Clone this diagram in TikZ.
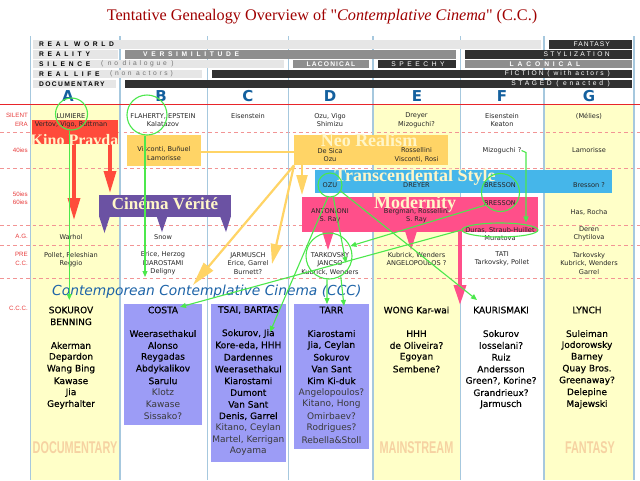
\documentclass[tikz,border=0pt]{standalone}
\usepackage{fontspec}
\usepackage{graphicx}
\setmainfont{Liberation Serif}
\newfontfamily\titlef{Liberation Serif}
\newfontfamily\dv{DejaVu Sans}
\newfontfamily\dvb[FakeBold=0.4]{DejaVu Sans}
\newfontfamily\lib{Liberation Sans}
\usetikzlibrary{arrows.meta,shapes.geometric}
\definecolor{titred}{HTML}{A00000}
\definecolor{yel}{HTML}{FFFFC8}
\definecolor{lgr}{HTML}{E6E6E6}
\definecolor{mgr}{HTML}{8E8E8E}
\definecolor{dgr}{HTML}{303030}
\definecolor{coll}{HTML}{A6C8DE}
\definecolor{redl}{HTML}{E8242A}
\definecolor{dashc}{HTML}{F29494}
\definecolor{rowred}{HTML}{E83C3C}
\definecolor{colblue}{HTML}{14609E}
\definecolor{kred}{HTML}{FF4B3B}
\definecolor{nyel}{HTML}{FFD466}
\definecolor{tblue}{HTML}{45B6EA}
\definecolor{mpink}{HTML}{FF4F8A}
\definecolor{cvp}{HTML}{6B52A3}
\definecolor{cccb}{HTML}{9C9CF6}
\definecolor{cccblue}{HTML}{1E64A8}
\definecolor{cream}{HTML}{FFF6C8}
\definecolor{grn}{HTML}{4CE84C}
\definecolor{wmark}{HTML}{F6D2A2}
\definecolor{sec}{HTML}{3A3A3A}
\newcommand\sect[1]{{\dv\color{sec}#1}}
\newcommand\ccclist[3]{\foreach \t [count=\i from 0] in {#3} {\node[lst] (#2\i) at (#1,310+11.8*\i) {\t};}}
\begin{document}
\begin{tikzpicture}[x=1pt,y=-1pt,
  cell/.style={font=\dv\fontsize{6.6}{8.5}\selectfont, text=black!85, inner sep=0pt, align=center},
  lst/.style={font=\dvb\fontsize{9}{11}\selectfont, text=black, inner sep=0pt},
  hbar/.style={inner sep=0pt, anchor=north west, minimum height=8.5pt},
  hl/.style={font=\lib\bfseries\fontsize{6.7}{7}\selectfont\addfontfeature{LetterSpace=#1}, text=black, inner sep=0pt, anchor=west},
  hg/.style={font=\lib\fontsize{6.7}{7}\selectfont\addfontfeature{LetterSpace=#1}, text=black!55, inner sep=0pt, anchor=west},
  hw/.style={font=\lib\fontsize{6.7}{7}\selectfont\addfontfeature{LetterSpace=#1}, text=white, inner sep=0pt},
  hwb/.style={font=\lib\bfseries\fontsize{6.7}{7}\selectfont\addfontfeature{LetterSpace=#1}, text=white, inner sep=0pt},
  box/.style={inner sep=0pt, anchor=north west},
  big/.style={font=\bfseries\fontsize{#1}{#1}\selectfont, text=cream, inner sep=0pt, anchor=base},
  rowlab/.style={font=\lib\fontsize{6.2}{8.5}\selectfont, text=rowred, anchor=east, align=right, inner sep=0pt},
  ring/.style={circle, draw=grn, line width=1.1pt, inner sep=0pt},
  gl/.style={draw=grn, line width=1.1pt},
  ga/.style={gl, -{Triangle[length=6pt,width=5pt]}},
  ya/.style={draw=nyel, line width=2.2pt, -{Triangle[length=20pt,width=11pt]}},
  yl/.style={draw=nyel, line width=2.2pt},
  karrow/.style={draw=kred, line width=3.3pt, -{Triangle[length=22pt,width=12pt]}},
  parrow/.style={draw=mpink, line width=3.3pt, -{Triangle[length=20pt,width=12pt]}},
  wmk/.style={font=\lib\bfseries\fontsize{17}{17}\selectfont, text=wmark, inner sep=0pt}
]
\useasboundingbox (0,0) rectangle (640,480);
\fill[white] (0,0) rectangle (640,480);
\node[font=\titlef\fontsize{16.2}{16.2}\selectfont, text=titred, inner sep=0pt] (title) at (322,17) {Tentative Genealogy Overview of "\textit{Contemplative Cinema}" (C.C.)};

% yellow columns
\fill[yel] (30.7,104.5) rectangle (120,480);
\fill[yel] (373,104.5) rectangle (460.7,480);
\fill[yel] (544,104.5) rectangle (634,480);
% dashed row separators
\foreach \y in {132.3,168.3,225.6,245.7,278.7} \draw[dashc, line width=0.7pt, dash pattern=on 3.5pt off 3pt] (0,\y) -- (640,\y);
% column lines
\foreach \x in {30.7,120,207.7,288.7,373,460.7,544,634} \draw[coll, line width=1.2pt] (\x,36) -- (\x,480);
\draw[redl, line width=1.4pt] (0,104.5) -- (640,104.5);

% header rows
\node[hbar, fill=lgr, minimum width=508.5pt] (h1) at (32.5,40) {};
\node[hl=55] (h1t) at (39,44.25) {REAL WORLD};
\node[hbar, fill=dgr, minimum width=83pt] (h1f) at (549,40) {};
\node[hw=15, anchor=east] (h1ft) at (610,44.25) {FANTASY};

\node[hbar, fill=lgr, minimum width=85.5pt] (h2) at (32.5,50) {};
\node[hl=55] (h2t) at (39,54.25) {REALITY};
\node[hbar, fill=mgr, minimum width=331.5pt] (h2v) at (124.5,50) {};
\node[hwb=55, anchor=west] (h2vt) at (143,54.25) {VERSIMILITUDE};
\node[hbar, fill=dgr, minimum width=167pt] (h2s) at (465,50) {};
\node[hw=35, anchor=east] (h2st) at (610,54.25) {STYLIZATION};

\node[hbar, fill=lgr, minimum width=251.2pt] (h3) at (32.5,59.5) {};
\node[hl=55] (h3t) at (39,63.75) {SILENCE};
\node[hg=40] (h3g) at (101,63.75) {( no dialogue )};
\node[hbar, fill=mgr, minimum width=76pt] (h3l) at (293,59.5) {};
\node[hwb=17] (h3lt) at (331,63.75) {LACONICAL};
\node[hbar, fill=dgr, minimum width=78.5pt] (h3s) at (377.5,59.5) {};
\node[hw=53] (h3st) at (418,63.75) {SPEECHY};
\node[hbar, fill=mgr, minimum width=167pt] (h3m) at (465,59.5) {};
\node[hwb=58] (h3mt) at (545,63.75) {LACONICAL};

\node[hbar, fill=lgr, minimum width=169.5pt] (h4) at (32.5,69.5) {};
\node[hl=55] (h4t) at (39,73.75) {REAL LIFE};
\node[hg=40] (h4g) at (110,73.75) {(non actors)};
\node[hbar, fill=dgr, minimum width=420pt] (h4f) at (212,69.5) {};
\node[hw=30, anchor=east] (h4ft) at (610,73.75) {FICTION ( with actors )};

\node[hbar, fill=lgr, minimum width=83.5pt] (h5) at (32.5,79.5) {};
\node[hl=20] (h5t) at (39,83.75) {DOCUMENTARY};
\node[hbar, fill=dgr, minimum width=507.5pt] (h5s) at (124.5,79.5) {};
\node[hw=40, anchor=east] (h5st) at (610,83.75) {STAGED ( enacted )};

% column letters
\foreach \l/\x in {A/68,B/161,C/248,D/330,E/417,F/502,G/589}
  \node[font=\dv\bfseries\fontsize{15}{15}\selectfont, text=colblue, inner sep=0pt] (col\l) at (\x,96) {\l};

% row labels
\node[rowlab] (rl1) at (28,120) {SILENT\\ERA};
\node[rowlab] (rl2) at (28,150.7) {40ies};
\node[rowlab] (rl3) at (28,198.5) {50ies\\60ies};
\node[rowlab] (rl4) at (28,236.7) {A.G.};
\node[rowlab] (rl5) at (28,259) {PRE\\C.C.};
\node[rowlab] (rl6) at (28,308.7) {C.C.C.};

% big movement boxes
\node[box, fill=kred, minimum width=86pt, minimum height=24.5pt] (kino) at (32,119.5) {};
\node[box, fill=nyel, minimum width=74pt, minimum height=31pt] (vb) at (127,135) {};
\node[box, fill=nyel, minimum width=154pt, minimum height=30pt] (neo) at (294,135) {};
\node[box, fill=tblue, minimum width=297pt, minimum height=23pt] (trans) at (315,170) {};
\node[box, fill=mpink, minimum width=236pt, minimum height=35pt] (modern) at (302,197) {};
\node[box, fill=cvp, minimum width=132pt, minimum height=22pt] (cv) at (99,195) {};
\fill[cvp] (99,216) -- (110,216) -- (104.5,233) -- cycle;
\fill[cvp] (156.5,216) -- (167.5,216) -- (162,232) -- cycle;
\fill[cvp] (220,216) -- (231,216) -- (226,232) -- cycle;
\fill[mpink] (322,231) -- (334,231) -- (328,250) -- cycle;
\fill[mpink] (405,231) -- (417,231) -- (411,250) -- cycle;

% CCC boxes
\node[box, fill=cccb, minimum width=78pt, minimum height=121pt] (costa) at (124,304) {};
\node[box, fill=cccb, minimum width=74.7pt, minimum height=157.7pt] (tsai) at (211,304) {};
\node[box, fill=cccb, minimum width=75pt, minimum height=145pt] (tarr) at (294,304) {};

% yellow (Neo Realism) connectors
\draw[yl] (vb.east |- 0,152) -- (neo.west |- 0,152);
\coordinate (y1) at (302,195);
\coordinate (y2) at (193,285);
\coordinate (y3) at (272,264);
\draw[ya] (neo.south -| y1) -- (y1);
\draw[ya, -{Triangle[length=24pt,width=12pt]}] (neo.south west) -- (y2);
\draw[ya] (neo.south west) -- (y3);

% red / pink arrows
\coordinate (ka1) at (74,220);
\coordinate (ka2) at (110,193);
\draw[karrow] (kino.south -| ka1) -- (ka1);
\draw[karrow] (kino.south -| ka2) -- (ka2);
\coordinate (pk) at (460,305);
\draw[parrow] (modern.south -| pk) -- (pk);

% big titles
\node[big=16] (kinot) at (74.5,145) {Kino Pravda};
\node[big=18] (neot) at (369,146.5) {Neo Realism};
\node[big=18] (transt) at (415,181.7) {Transcendental Style};
\node[big=18] (modt) at (415,208.5) {Modernity};
\node[big=17] (cvt) at (165,209) {Cinéma Vérité};

% cells: silent era
\node[cell] (a1) at (71,116) {LUMIERE};
\node[cell] (a2) at (71,124.5) {Vertov, Vigo, Ruttman};
\node[cell] (b1) at (163,120.2) {FLAHERTY, EPSTEIN\\Kalatazov};
\node[cell] (c1) at (248,116) {Eisenstein};
\node[cell] (d1) at (330,120.2) {Ozu, Vigo\\Shimizu};
\node[cell] (e1) at (416.5,120.2) {Dreyer\\Mizoguchi?};
\node[cell] (f1) at (502,120.2) {Eisenstein\\Keaton};
\node[cell] (g1) at (589,116) {(Mélies)};
% 40ies
\node[cell] (b2) at (164,153.7) {Visconti, Buñuel\\Lamorisse};
\node[cell] (d2) at (330,155) {De Sica\\Ozu};
\node[cell] (e2) at (416.5,155) {Rossellini\\Visconti, Rosi};
\node[cell] (mizo) at (502,150.5) {Mizoguchi ?};
\node[cell] (g2) at (589,150.5) {Lamorisse};
% 50ies 60ies
\node[cell] (d3) at (330,185) {OZU};
\node[cell] (e3) at (416.5,185) {DREYER};
\node[cell] (f3) at (500,185) {BRESSON};
\node[cell] (g3) at (589,185) {Bresson ?};
\node[cell] (d4) at (330,215.5) {ANTONIONI\\S. Ray};
\node[cell] (e4) at (416.5,215.5) {Bergman, Rossellini\\S. Ray};
\node[cell] (f4) at (500,203) {BRESSON};
\node[cell] (g4) at (589,212) {Has, Rocha};
% A.G.
\node[cell] (a5) at (71,237) {Warhol};
\node[cell] (b5) at (163,237) {Snow};
\node[cell] (f5) at (500,234) {Duras, Straub-Huillet\\Muratova};
\node[cell] (g5) at (589,234) {Deren\\Chytilova};
% PRE C.C.
\node[cell] (a6) at (71,259.5) {Pollet, Peleshian\\Reggio};
\node[cell] (b6) at (163,263.5) {Erice, Herzog\\KIAROSTAMI\\Deligny};
\node[cell] (c6) at (248,263.5) {JARMUSCH\\Erice, Garrel\\Burnett?};
\node[cell] (d6) at (330,263.5) {TARKOVSKY\\JANCSO\\Kubrick, Wenders};
\node[cell] (e6) at (416.5,259) {Kubrick, Wenders\\ANGELOPOULOS ?};
\node[cell] (f6) at (502,259) {TATI\\Tarkovsky, Pollet};
\node[cell] (g6) at (589,263.5) {Tarkovsky\\Kubrick, Wenders\\Garrel};

% CCC heading
\node[font=\dv\itshape\fontsize{13.8}{14}\selectfont, text=cccblue, inner sep=0pt, anchor=west] (ccct) at (52,291.5) {Contemporean Contemplative Cinema (CCC)};

% CCC lists
\ccclist{71}{la}{SOKUROV,BENNING,{},Akerman,Depardon,{Wang Bing},Kawase,Jia,Geyrhalter}
\ccclist{163}{lb}{COSTA,{},Weerasethakul,Alonso,Reygadas,Abdykalikov,Sarulu,{\sect{Klotz}},{\sect{Kawase}},{\sect{Sissako?}}}
\ccclist{248.3}{lc}{{TSAI, BARTAS},{},{Sokurov, Jia},{Kore-eda, HHH},Dardennes,Weerasethakul,Kiarostami,Dumont,{Van Sant},{Denis, Garrel},{\sect{Kitano, Ceylan}},{\sect{Martel, Kerrigan}},{\sect{Aoyama}}}
\ccclist{331.5}{ld}{TARR,{},Kiarostami,{Jia, Ceylan},Sokurov,{Van Sant},{Kim Ki-duk},{\sect{Angelopoulos?}},{\sect{Kitano, Hong}},{\sect{Omirbaev?}},{\sect{Rodrigues?}},{\sect{Rebella\&Stoll}}}
\ccclist{416.5}{le}{{WONG Kar-wai},{},HHH,{de Oliveira?},Egoyan,Sembene?}
\ccclist{501}{lf}{KAURISMAKI,{},Sokurov,Iosselani?,Ruiz,Andersson,{Green?, Korine?},Grandrieux?,Jarmusch}
\ccclist{587}{lg}{LYNCH,{},Suleiman,Jodorowsky,Barney,{Quay Bros.},Greenaway?,Delepine,Majewski}

% watermarks
\node[wmk] (wm1) at (75,448) {\scalebox{0.64}[1]{DOCUMENTARY}};
\node[wmk] (wm2) at (416.5,448) {\scalebox{0.64}[1]{MAINSTREAM}};
\node[wmk] (wm3) at (590,448) {\scalebox{0.64}[1]{FANTASY}};

% green rings
\node[ring, minimum size=32pt] (clum) at (71.5,114) {};
\node[ring, minimum size=40pt] (cfla) at (147,115) {};
\node[ring, minimum size=24pt] (cozu) at (330,185) {};
\node[ring, minimum size=38pt] (cbre) at (500.5,192.5) {};
\node[ellipse, draw=grn, line width=1.1pt, inner sep=0pt, minimum width=76pt, minimum height=14pt] (cdur) at (500,230) {};
\node[ring, minimum size=46pt] (ctar) at (329,256) {};

% green connectors
\coordinate (gA) at (69.3,300);
\draw[ga] (clum.south -| gA) -- (gA);
\coordinate (gB) at (145,277);
\draw[ga] (cfla.south -| gB) -- (gB);
\coordinate (gM) at (526,152.5);
\draw[ga] (mizo.east) -- (gM) -- (gM |- cdur.north);
\coordinate (gJ) at (346,263);
\draw[ga] (cozu.-75) -- (gJ);
\coordinate (gK) at (477,300);
\draw[ga] (cozu.-30) -- (gK);
\draw[ga] (cbre.-140) -- (ctar.25);
\coordinate (gT) at (270,332);
\draw[ga] (cozu.-100) -- (gT);
\coordinate (gC) at (180,307);
\draw[ga] (cdur.west) -- (gC);
\coordinate (gR1) at (327,304);
\coordinate (gR2) at (344,306);
\draw[ga] (ctar.-95) -- (gR1);
\draw[ga] (ctar.-60) -- (gR2);
\end{tikzpicture}
\end{document}
